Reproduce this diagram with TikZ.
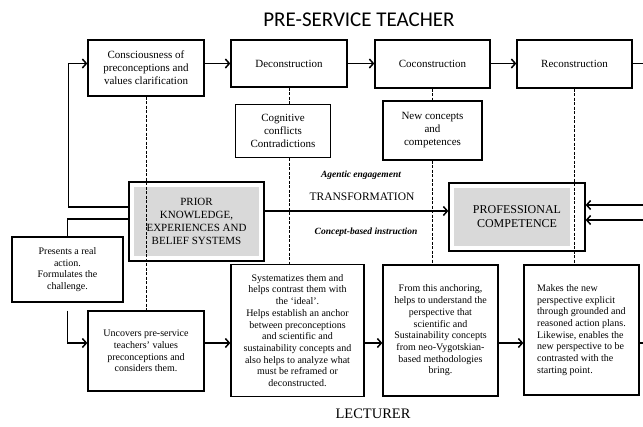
\documentclass[tikz,border=0pt]{standalone}
\usepackage{fontspec}
\setmainfont{Liberation Serif}
\newfontfamily\titlefont{Carlito}
\usetikzlibrary{arrows.meta}

\begin{document}
\begin{tikzpicture}[x=1pt, y=-1pt,
  >={Straight Barb[length=4pt,width=9pt]},
  topbox/.style={draw, line width=1.3pt, align=center, inner sep=2pt, font=\fontsize{11}{13}\selectfont},
  lowbox/.style={draw, line width=1.3pt, align=center, inner sep=2pt, font=\fontsize{10}{11.7}\selectfont},
  graybox/.style={draw, line width=1.3pt, align=center, inner sep=2pt,
    path picture={\fill[black!15] ([shift={(5pt,5pt)}]path picture bounding box.south west)
      rectangle ([shift={(-#1,-5pt)}]path picture bounding box.north east);}},
  graybox/.default=5pt,
  flow/.style={line width=1.5pt},
  dashline/.style={line width=1pt, dash pattern=on 3pt off 1.5pt}]
\useasboundingbox (0,0) rectangle (643,426);

% Titles
\node[font=\titlefont\fontsize{21}{24}\selectfont] (title) at (359,20) {PRE-SERVICE TEACHER};
\node[font=\fontsize{14.5}{16}\selectfont] (lect) at (373,414) {LECTURER};

% Lanes
\coordinate (toplane) at (0,63.5);
\coordinate (midlane) at (0,211);
\coordinate (lane) at (0,343);
\coordinate (outtop) at (643,63.5);
\coordinate (outlow) at (643,343);
\coordinate (inA) at (643,205);
\coordinate (inB) at (643,220);

% Pre-service teacher row
\node[topbox, minimum width=116pt, minimum height=56pt] (consc) at (146,68) {Consciousness of\\preconceptions and\\values clarification};
\node[topbox, minimum width=116pt, minimum height=47pt] (decon) at (289,63.5) {Deconstruction};
\node[topbox, minimum width=115pt, minimum height=48pt] (cocon) at (432.5,64) {Coconstruction};
\node[topbox, minimum width=115pt, minimum height=48pt] (recon) at (574.5,64) {Reconstruction};
\node[topbox, minimum width=95pt, minimum height=53pt] (cogn) at (283,131) {Cognitive\\conflicts\\Contradictions};
\node[topbox, minimum width=99pt, minimum height=59pt] (newc) at (432.5,130.5) {New concepts\\and\\competences};

% Centre
\node[graybox, font=\fontsize{11}{13}\selectfont, minimum width=135pt, minimum height=79pt] (prior) at (196.5,221.5) {PRIOR\\KNOWLEDGE,\\EXPERIENCES AND\\BELIEF SYSTEMS};
\node[graybox=15pt, font=\fontsize{12}{14}\selectfont, minimum width=136pt, minimum height=68pt] (prof) at (517,217) {PROFESSIONAL\\COMPETENCE};
\node[font=\fontsize{9.5}{11}\selectfont\bfseries\itshape] (agentic) at (361,175) {Agentic engagement};
\node[font=\fontsize{11.5}{13}\selectfont] (transf) at (362,197) {TRANSFORMATION};
\node[font=\fontsize{9.5}{11}\selectfont\bfseries\itshape] (concept) at (366,232) {Concept-based instruction};

% Lecturer row
\node[lowbox, minimum width=111pt, minimum height=65pt] (presents) at (67.5,269.5) {Presents a real\\action.\\Formulates the\\challenge.};
\node[lowbox, minimum width=116pt, minimum height=80pt] (uncov) at (146,351) {Uncovers pre-service\\teachers' values\\preconceptions and\\considers them.};
\node[lowbox, minimum width=133pt, minimum height=132pt] (syst) at (297.5,330.5) {Systematizes them and\\helps contrast them with\\the `ideal'.\\Helps establish an anchor\\between preconceptions\\and scientific and\\sustainability concepts and\\also helps to analyze what\\must be reframed or\\deconstructed.};
\node[lowbox, minimum width=115pt, minimum height=131pt] (anch) at (440.5,330.5) {From this anchoring,\\helps to understand the\\perspective that\\scientific and\\Sustainability concepts\\from neo-Vygotskian-\\based methodologies\\bring.};
\node[lowbox, align=left, minimum width=115pt, minimum height=130pt] (makes) at (581.5,330) {Makes the new\\perspective explicit\\through grounded and\\reasoned action plans.\\Likewise, enables the\\new perspective to be\\contrasted with the\\starting point.};

% Dashed links
\draw[dashline] (consc.south) -- (consc.south |- uncov.north);
\draw[dashline] (decon.south) -- (decon.south |- cogn.north);
\draw[dashline] (decon.south |- cogn.south) -- (decon.south |- syst.north);
\draw[dashline] (cocon.south) -- (cocon.south |- newc.north);
\draw[dashline] (cocon.south |- newc.south) -- (cocon.south |- anch.north);
\draw[dashline] (recon.south) -- (recon.south |- makes.north);

% Top arrows
\draw[flow, ->] (consc.east |- toplane) -- (decon.west |- toplane);
\draw[flow, ->] (decon.east |- toplane) -- (cocon.west |- toplane);
\draw[flow, ->] (cocon.east |- toplane) -- (recon.west |- toplane);
\draw[flow] (recon.east |- toplane) -- (outtop);

% Transformation
\draw[flow, ->] (prior.east |- midlane) -- (prof.west |- midlane);
\draw[flow, ->] (inA) -- (inA -| prof.east);
\draw[flow, ->] (inB) -- (inB -| prof.east);

% Left loops
\draw[flow, ->] ([yshift=14.5pt]prior.west) -- ++(-60,0) |- (consc.west |- toplane);
\draw[flow] ([yshift=2.5pt]prior.west) -| (presents.north);
\draw[flow, ->] ([yshift=-8pt]presents.south) |- (uncov.west |- lane);

% Bottom arrows
\draw[flow, ->] (uncov.east |- lane) -- (syst.west |- lane);
\draw[flow, ->] (syst.east |- lane) -- (anch.west |- lane);
\draw[flow, ->] (anch.east |- lane) -- (makes.west |- lane);
\draw[flow] (makes.east |- lane) -- (outlow);
\end{tikzpicture}
\end{document}
